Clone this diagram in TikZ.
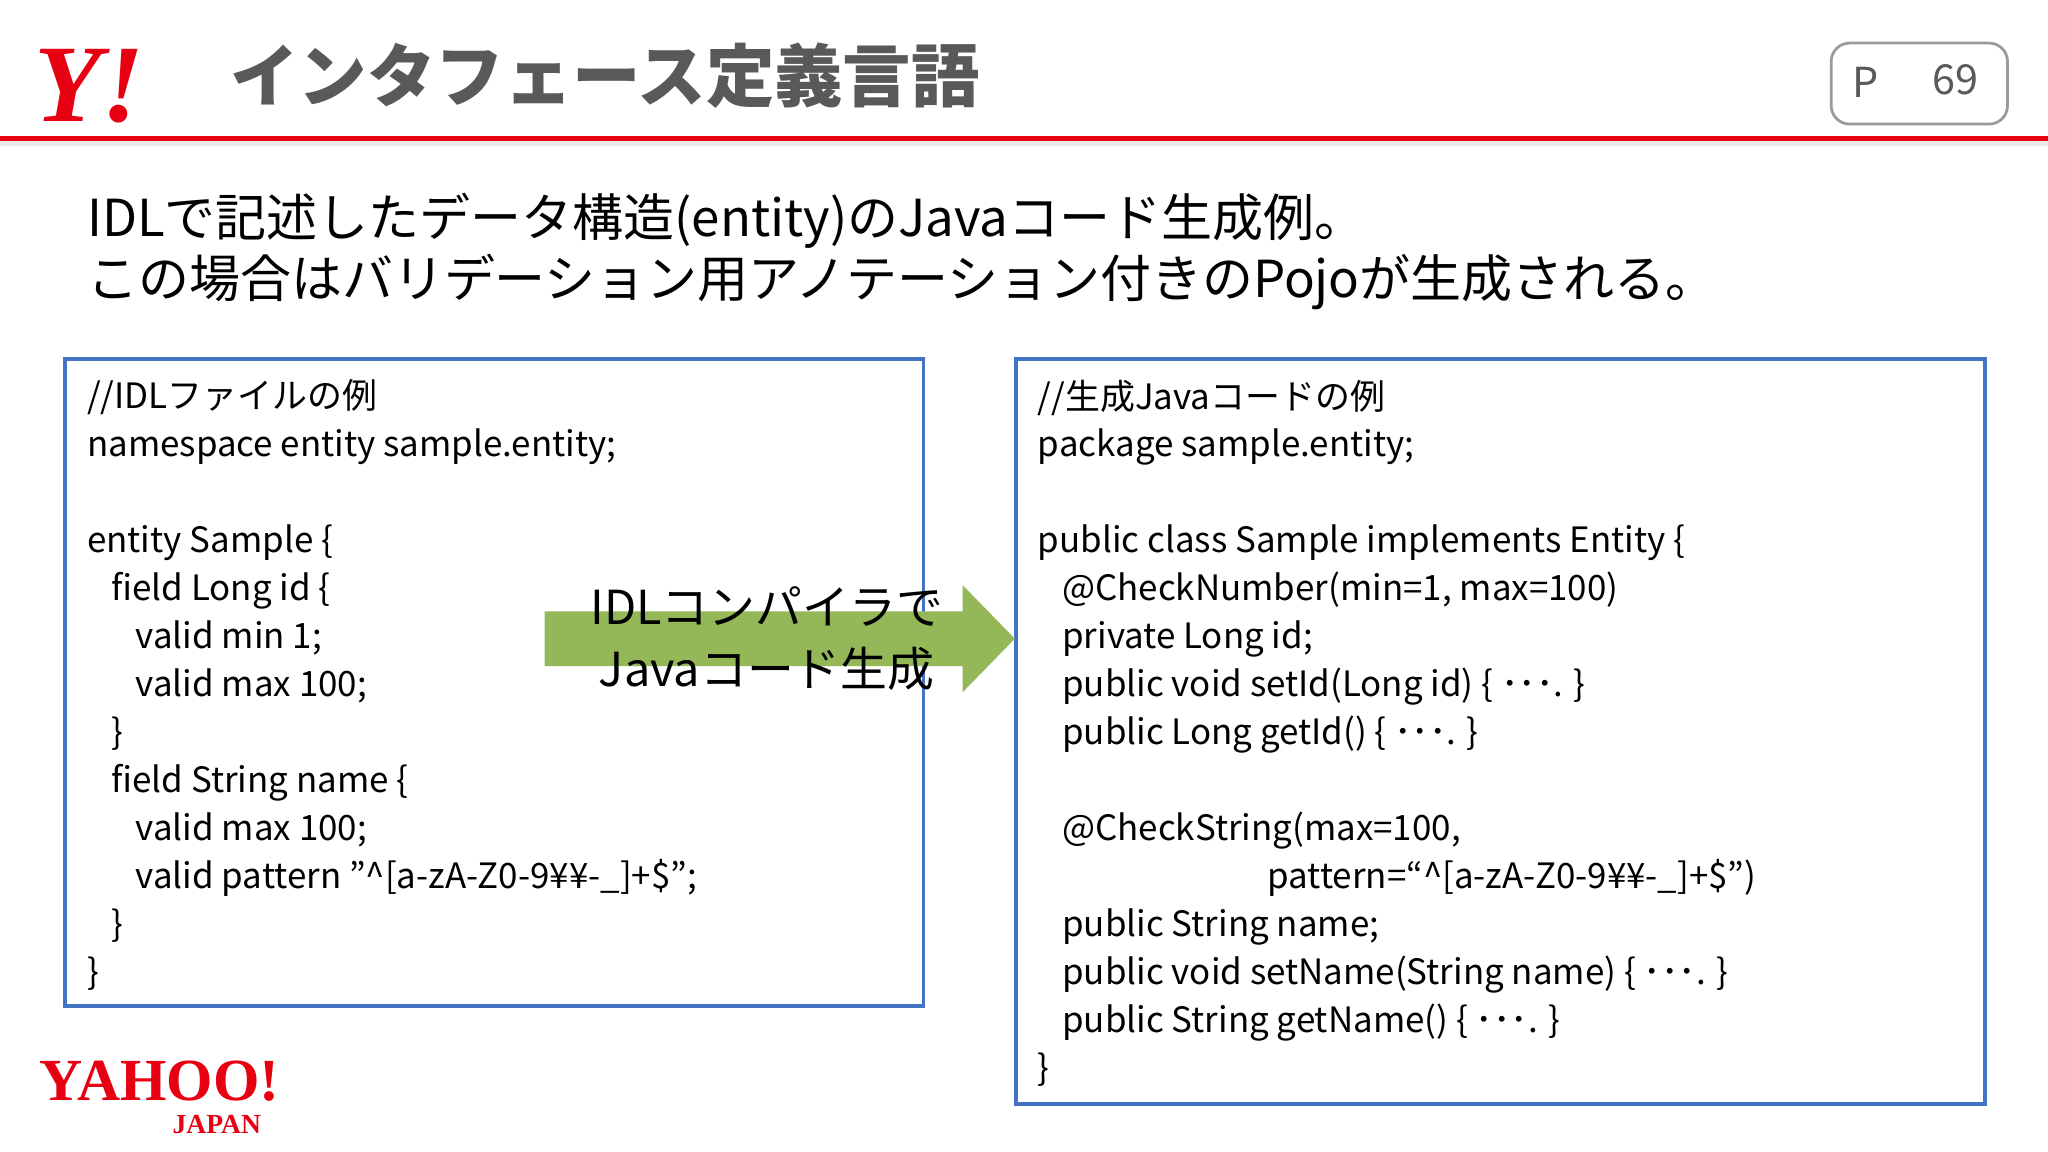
\documentclass[tikz,border=0pt]{standalone}
\usepackage{fontspec}
\setmainfont{Noto Sans CJK JP}
\newfontfamily\logofont{Liberation Serif}
\usetikzlibrary{positioning}
\definecolor{yred}{HTML}{E60012}
\definecolor{boxblue}{HTML}{4472C4}
\definecolor{arrowgreen}{HTML}{94B857}
\definecolor{titlegray}{HTML}{595959}
\newcommand{\ind}{\hspace*{5.3pt}}
\tikzset{
  codebox/.style={draw=boxblue,line width=0.8pt},
  code/.style={anchor=north west,align=left,inner sep=0pt,
    font=\fontsize{7.6pt}{10.44pt}\selectfont},
}
\begin{document}
\begin{tikzpicture}[x=0.01cm,y=-0.01cm]
  \useasboundingbox[fill=white] (0,0) rectangle (1568,882);
  % header
  \node[text=yred,font=\logofont\fontsize{24pt}{24pt}\bfseries\itshape\selectfont,anchor=west] (ylogo) at (14,66) {Y!};
  \node[text=titlegray,font=\fontsize{14.9pt}{16pt}\bfseries\selectfont,anchor=west] (title) at (164,58) {インタフェース定義言語};
  \fill[black!8] (0,107) rectangle (1568,112);
  \draw[yred,line width=1pt] (0,106) -- (1568,106);
  \draw[titlegray!60,rounded corners=4pt,line width=0.6pt] (1402,33) rectangle (1537,95);
  \node[text=titlegray,font=\fontsize{9pt}{9pt}\selectfont] (pg) at (1428,63) {P};
  \node[text=titlegray,font=\fontsize{9pt}{9pt}\selectfont] (pnum) at (1497,61) {69};
  % subtitle
  \node[anchor=north west,align=left,inner sep=0pt,
    font=\fontsize{11.1pt}{13.4pt}\selectfont] (sub) at (66,147)
    {IDLで記述したデータ構造(entity)のJavaコード生成例。\\
     この場合はバリデーション用アノテーション付きのPojoが生成される。};
  % boxes
  \draw[codebox] (50,275) rectangle (707,770);
  \draw[codebox] (778,275) rectangle (1520,845);
  \node[code] (idl) at (66,290) {%
    //IDLファイルの例\\
    namespace entity sample.entity;\\
    \mbox{}\\
    entity Sample \{\\
    \ind field Long id \{\\
    \ind\ind valid min 1;\\
    \ind\ind valid max 100;\\
    \ind \}\\
    \ind field String name \{\\
    \ind\ind valid max 100;\\
    \ind\ind valid pattern ”\^{}[a-zA-Z0-9¥¥-\_]+\$”;\\
    \ind \}\\
    \}};
  \node[code] (java) at (794,290) {%
    //生成Javaコードの例\\
    package sample.entity;\\
    \mbox{}\\
    public class Sample implements Entity \{\\
    \ind @CheckNumber(min=1, max=100)\\
    \ind private Long id;\\
    \ind public void setId(Long id) \{ ･･･. \}\\
    \ind public Long getId() \{ ･･･. \}\\
    \mbox{}\\
    \ind @CheckString(max=100,\\
    \hspace*{50pt}pattern=“\^{}[a-zA-Z0-9¥¥-\_]+\$”)\\
    \ind public String name;\\
    \ind public void setName(String name) \{ ･･･. \}\\
    \ind public String getName() \{ ･･･. \}\\
    \}};
  % arrow
  \fill[arrowgreen] (417,468) -- (737,468) -- (737,448) -- (777,489)
    -- (737,530) -- (737,510) -- (417,510) -- cycle;
  \node[align=center,font=\fontsize{10.2pt}{13.4pt}\selectfont] (conv) at (587,489)
    {IDLコンパイラで\\Javaコード生成};
  % footer logo
  \node[text=yred,font=\logofont\fontsize{13pt}{13pt}\bfseries\selectfont,inner sep=0pt] (yahoo) at (122,828) {YAHOO!};
  \node[text=yred,font=\logofont\fontsize{6pt}{6pt}\bfseries\selectfont,inner sep=0pt,anchor=north east] (japan) at ([xshift=-4pt,yshift=-2.5pt]yahoo.south east) {JAPAN};
\end{tikzpicture}
\end{document}
